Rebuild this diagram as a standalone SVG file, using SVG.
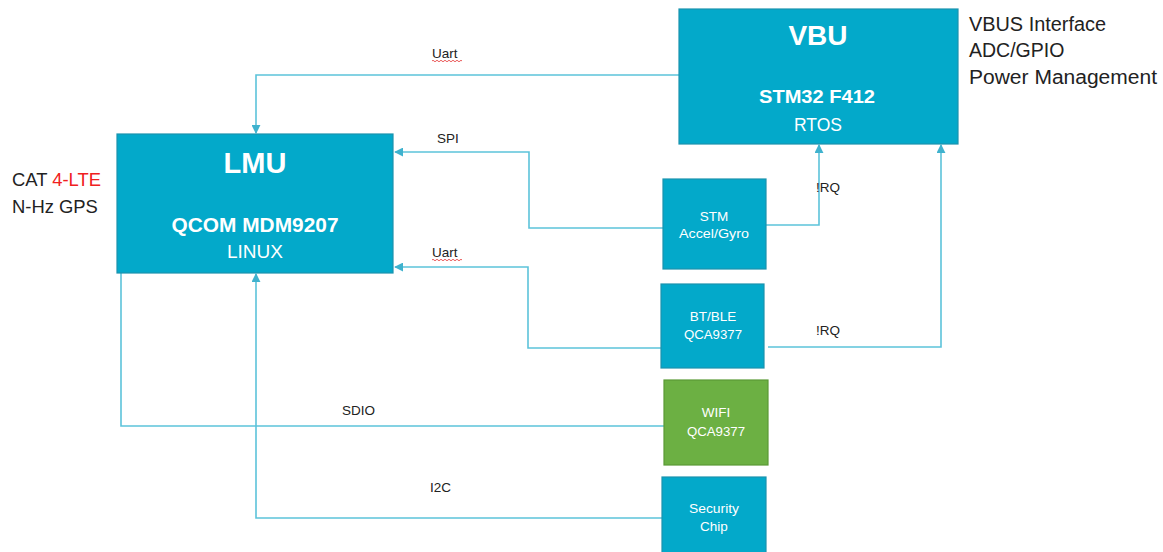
<svg xmlns="http://www.w3.org/2000/svg" width="1163" height="552" viewBox="0 0 1163 552">
<style>
.box{fill:#03A9CA;stroke:#1B93AE;stroke-width:1.2}
.green{fill:#6CB043;stroke:#5A9A36;stroke-width:1.2}
.w{fill:#fff;font-family:"Liberation Sans",Arial,sans-serif;text-anchor:middle}
.b{font-weight:bold}
.s{font-size:13.5px}
.lbl{fill:#222;font-family:"Liberation Sans",Arial,sans-serif;font-size:13.5px}
.side{fill:#222;font-family:"Liberation Sans",Arial,sans-serif;font-size:19.5px}
.left{font-size:18.4px}
.wire{fill:none;stroke:#5CC3DA;stroke-width:1.6}
.sq{fill:none;stroke:#E84A4A;stroke-width:0.9}
</style>
<defs>
<marker id="arr" viewBox="0 0 10 10" refX="9" refY="5" markerWidth="9" markerHeight="9" markerUnits="userSpaceOnUse" orient="auto">
<path d="M0,0 L10,5 L0,10 z" fill="#3FB2CE"/>
</marker>
</defs>
<rect width="1163" height="552" fill="#fff"/>
<g id="connectors">
<path class="wire" d="M679,75 H256 V133" marker-end="url(#arr)"/>
<path class="wire" d="M663,228 H529 V152 H395" marker-end="url(#arr)"/>
<path class="wire" d="M766,225 H819 V145" marker-end="url(#arr)"/>
<path class="wire" d="M661,348 H528 V267 H395" marker-end="url(#arr)"/>
<path class="wire" d="M768,347 H941 V145" marker-end="url(#arr)"/>
<path class="wire" d="M664,426 H121 V273"/>
<path class="wire" d="M662,518 H256 V274" marker-end="url(#arr)"/>
<text class="lbl" x="432" y="58">Uart</text>
<path class="sq" d="M432,61 q1,-1.5 2,0 t2,0 t2,0 t2,0 t2,0 t2,0 t2,0 t2,0 t2,0 t2,0 t2,0 t2,0 t2,0 t2,0 t2,0"/>
<text class="lbl" x="437" y="143">SPI</text>
<text class="lbl" x="432" y="257">Uart</text>
<path class="sq" d="M432,260 q1,-1.5 2,0 t2,0 t2,0 t2,0 t2,0 t2,0 t2,0 t2,0 t2,0 t2,0 t2,0 t2,0 t2,0 t2,0 t2,0"/>
<text class="lbl" x="816" y="192">!RQ</text>
<text class="lbl" x="816" y="335">!RQ</text>
<text class="lbl" x="342" y="415">SDIO</text>
<text class="lbl" x="430" y="492">I2C</text>
</g>
<g id="vbu">
<rect class="box" x="679" y="9" width="279" height="135"/>
<text class="w b" x="818" y="45" font-size="28">VBU</text>
<text class="w b" x="817" y="103" font-size="19" textLength="116" lengthAdjust="spacingAndGlyphs">STM32 F412</text>
<text class="w" x="818" y="131" font-size="17.5">RTOS</text>
</g>
<g id="vbu-notes">
<text class="side" x="969" y="31" textLength="137" lengthAdjust="spacingAndGlyphs">VBUS Interface</text>
<text class="side" x="969" y="57">ADC/GPIO</text>
<text class="side" x="969" y="84" textLength="188" lengthAdjust="spacingAndGlyphs">Power Management</text>
</g>
<g id="lmu">
<rect class="box" x="117" y="134" width="276" height="139"/>
<text class="w b" x="255" y="173" font-size="29">LMU</text>
<text class="w b" x="255" y="232" font-size="19.5" textLength="167" lengthAdjust="spacingAndGlyphs">QCOM MDM9207</text>
<text class="w" x="255" y="258" font-size="19">LINUX</text>
</g>
<g id="lmu-notes">
<text class="side left" x="12" y="186">CAT <tspan fill="#F02020">4-LTE</tspan></text>
<text class="side left" x="12" y="213">N-Hz GPS</text>
</g>
<g id="stm">
<rect class="box" x="663" y="179" width="103" height="90"/>
<text class="w s" x="714" y="221">STM</text>
<text class="w s" x="714" y="238" textLength="70" lengthAdjust="spacingAndGlyphs">Accel/Gyro</text>
</g>
<g id="bt">
<rect class="box" x="661" y="284" width="103" height="84"/>
<text class="w s" x="713" y="321">BT/BLE</text>
<text class="w s" x="713" y="339" textLength="58" lengthAdjust="spacingAndGlyphs">QCA9377</text>
</g>
<g id="wifi">
<rect class="green" x="664" y="380" width="104" height="85"/>
<text class="w s" x="716" y="417">WIFI</text>
<text class="w s" x="716" y="436" textLength="58" lengthAdjust="spacingAndGlyphs">QCA9377</text>
</g>
<g id="security">
<rect class="box" x="662" y="477" width="104" height="80"/>
<text class="w s" x="714" y="513" textLength="50" lengthAdjust="spacingAndGlyphs">Security</text>
<text class="w s" x="714" y="531">Chip</text>
</g>
</svg>
